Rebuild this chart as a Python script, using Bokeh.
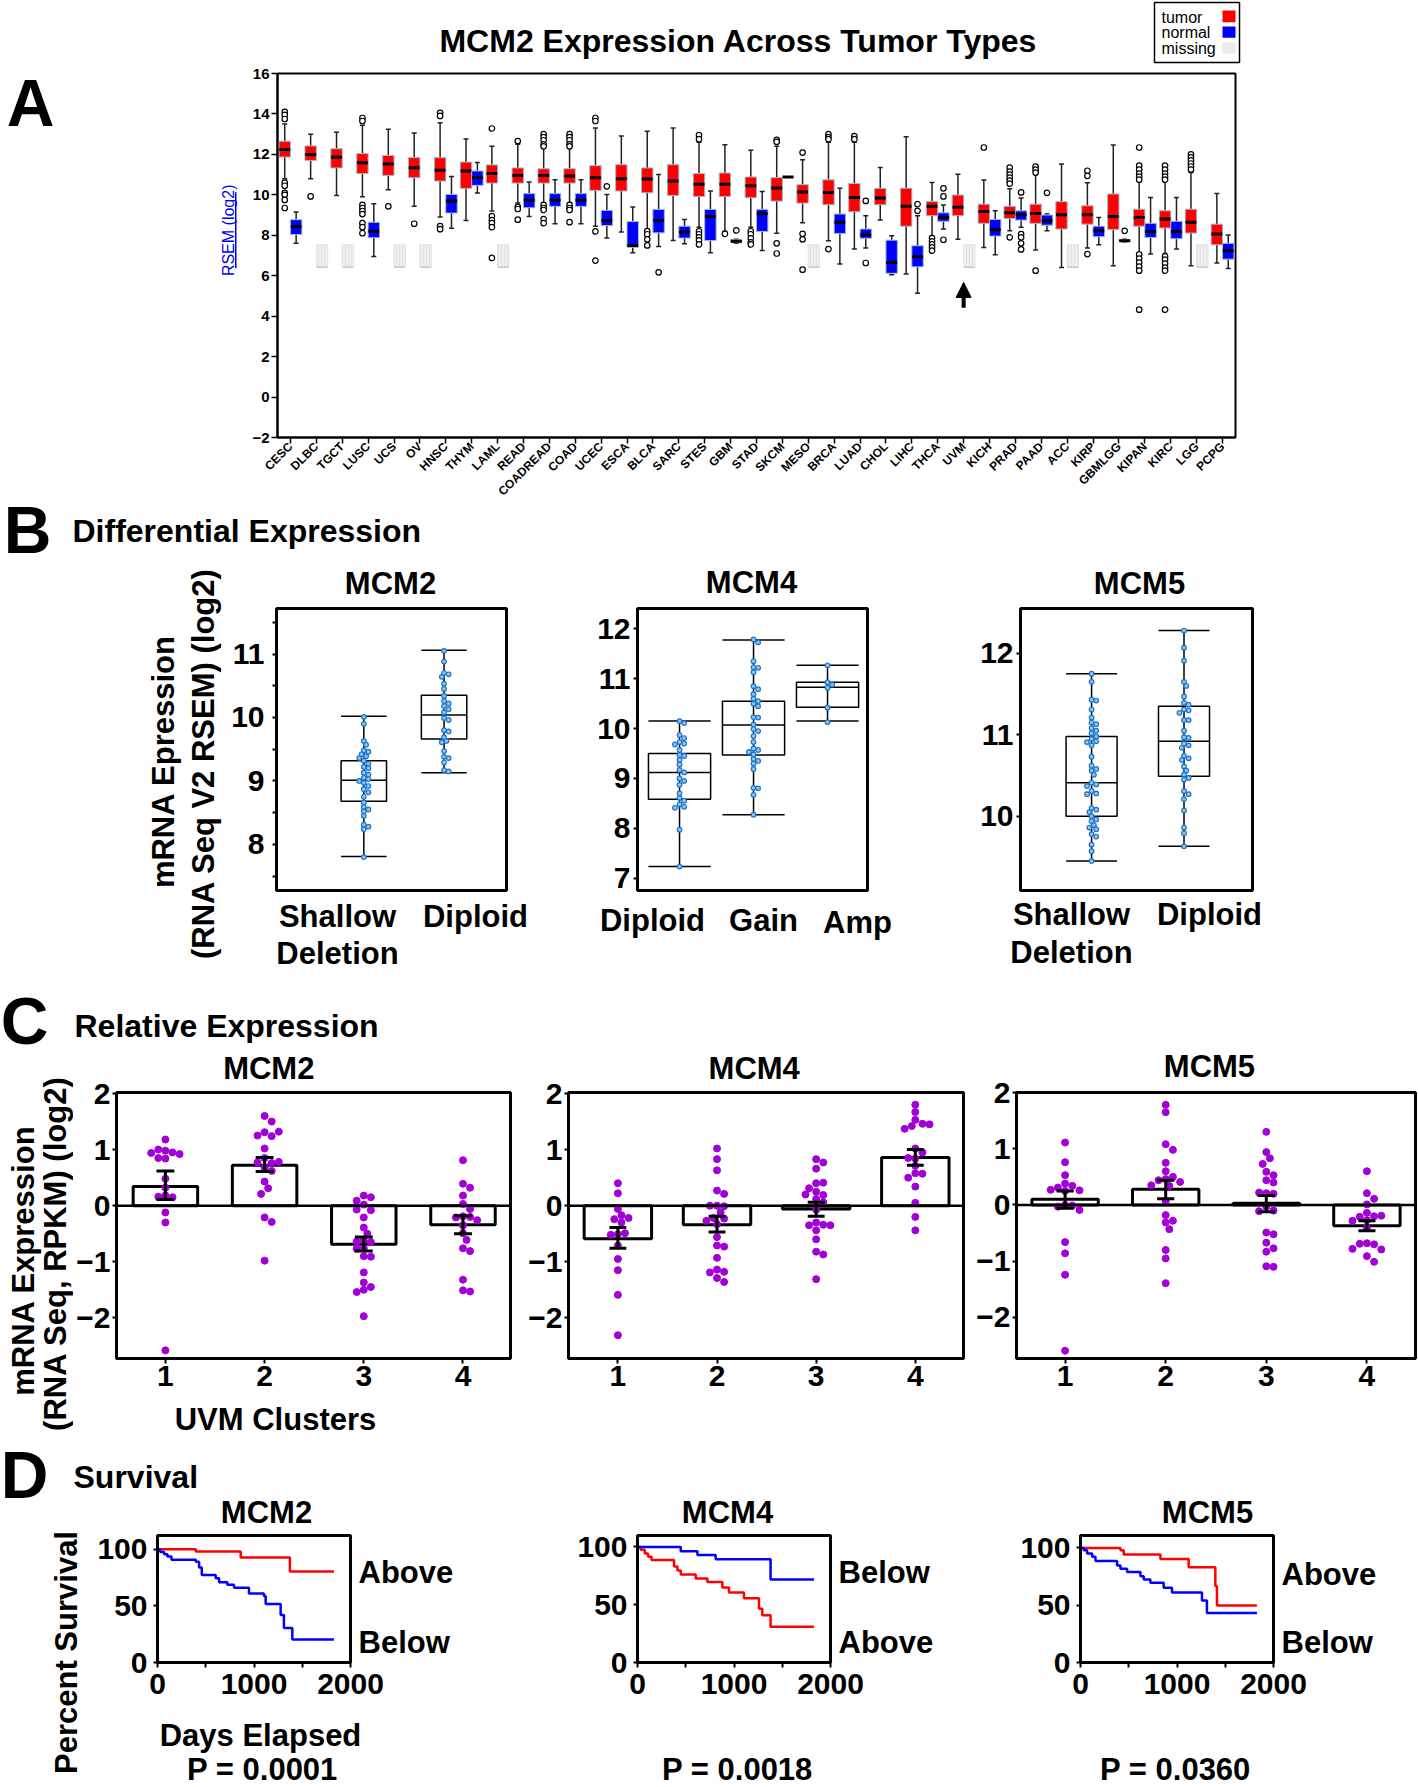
import math
from bokeh.plotting import figure
from bokeh.models import (Range1d, FactorRange, FixedTicker, Label, LinearAxis,
                          Arrow, NormalHead, ColumnDataSource, Span)
from bokeh.transform import dodge
from bokeh.layouts import column, row
from bokeh.embed import file_html
from bokeh.resources import INLINE

FONT = "Liberation Sans"
RED = "#ff0000"
BLUE = "#0000ff"
PURPLE = "#a100d6"

# ---------------- Panel A data ----------------
cats = ["CESC", "DLBC", "TGCT", "LUSC", "UCS", "OV", "HNSC", "THYM", "LAML", "READ",
        "COADREAD", "COAD", "UCEC", "ESCA", "BLCA", "SARC", "STES", "GBM", "STAD", "SKCM",
        "MESO", "BRCA", "LUAD", "CHOL", "LIHC", "THCA", "UVM", "KICH", "PRAD", "PAAD",
        "ACC", "KIRP", "GBMLGG", "KIPAN", "KIRC", "LGG", "PCPG"]
tumor_low = [10.8, 10.8, 9.97, 9.9, 10.25, 9.44, 8.9, 8.73, 9.2, 9.6, 9.6, 9.6, 8.45, 8.16, 8.32,
             7.74, 8.4, 8.2, 8.4, 8.1, 8.62, 7.73, 7.32, 8.75, 6.08, 7.98, 7.8, 7.4, 8.22, 7.27,
             6.41, 7.37, 6.49, 7.15, 7.1, 6.49, 6.63]
tumor_q1 = [11.87, 11.7, 11.33, 11.05, 10.96, 10.85, 10.68, 10.32, 10.58, 10.58, 10.58, 10.58,
            10.22, 10.19, 10.1, 9.97, 9.92, 9.92, 9.86, 9.69, 9.59, 9.51, 9.16, 9.51, 8.45, 8.97,
            8.97, 8.59, 8.83, 8.59, 8.31, 8.55, 8.29, 8.45, 8.36, 8.11, 7.53]
tumor_med = [12.24, 11.99, 11.86, 11.59, 11.52, 11.34, 11.21, 11.18, 11.05, 10.96, 10.95, 10.93,
             10.85, 10.8, 10.78, 10.68, 10.52, 10.52, 10.45, 10.34, 10.14, 10.12, 9.87, 9.84,
             9.43, 9.43, 9.38, 9.18, 9.11, 9.08, 9.01, 9.01, 8.93, 8.88, 8.8, 8.64, 8.06]
tumor_q3 = [12.65, 12.42, 12.28, 12.04, 11.95, 11.84, 11.84, 11.62, 11.48, 11.33, 11.29, 11.29,
            11.44, 11.49, 11.33, 11.49, 11.05, 11.08, 10.88, 10.85, 10.5, 10.74, 10.56, 10.32,
            10.33, 9.67, 9.99, 9.54, 9.43, 9.54, 9.66, 9.46, 10.04, 9.29, 9.21, 9.29, 8.55]
tumor_high = [13.5, 13.0, 13.1, 13.44, 13.24, 13.06, 13.56, 12.76, 12.4, 12.5, 12.3, 12.3, 13.3,
              12.91, 13.14, 13.3, 12.6, 12.48, 12.2, 12.4, 11.74, 12.6, 12.6, 11.35, 12.87, 10.61,
              11.02, 10.73, 10.3, 11.0, 11.52, 10.6, 12.46, 11.3, 10.9, 11.1, 10.07]
# normal tissue (None = missing)
normal_low = [7.6, None, None, 6.95, None, None, 8.35, 10.09, None, 8.93, 8.57, 8.57, 7.86, 7.13,
              7.45, 7.58, 7.13, 7.6, 7.25, 10.88, None, 6.58, 7.37, 6.05, 5.13, 8.31, None, 7.04,
              8.4, 8.22, None, 7.53, 7.68, 7.07, 7.32, None, 6.36]
normal_q1 = [8.04, None, None, 7.88, None, None, 9.1, 10.47, None, 9.36, 9.43, 9.43, 8.48, 7.41,
             8.12, 7.86, 7.74, 7.63, 8.19, 10.88, None, 8.09, 7.85, 6.12, 6.44, 8.69, None, 7.96,
             8.75, 8.5, None, 7.93, 7.7, 7.89, 7.83, None, 6.82]
normal_med = [8.44, None, None, 8.2, None, None, 9.69, 10.85, None, 9.73, 9.73, 9.73, 8.73, 7.5,
              8.73, 8.16, 8.93, 7.7, 9.06, 10.88, None, 8.64, 8.01, 6.66, 6.94, 8.88, None, 8.27,
              9.01, 8.72, None, 8.22, 7.73, 8.19, 8.17, None, 7.24]
normal_q3 = [8.77, None, None, 8.64, None, None, 10.02, 11.18, None, 10.06, 10.06, 10.06, 9.23,
             8.68, 9.28, 8.45, 9.28, 7.78, 9.28, 10.88, None, 9.05, 8.31, 7.76, 7.48, 9.11, None,
             8.78, 9.21, 9.0, None, 8.45, 7.78, 8.59, 8.69, None, 7.6]
normal_high = [9.15, None, None, 9.56, None, None, 10.91, 11.6, None, 10.63, 10.75, 10.75, 10.02,
               9.4, 11.0, 8.78, 10.19, 7.8, 10.17, 10.88, None, 10.32, 8.97, 7.98, 8.97, 9.5, None,
               9.21, 9.84, 9.05, None, 8.88, 7.8, 9.87, 9.87, None, 8.01]
tumor_outliers = {
    "CESC": [14.1, 13.95, 13.75, 10.6, 10.45, 10.1, 10.0, 9.75, 9.35],
    "DLBC": [9.92], "LUSC": [13.8, 13.65, 9.5, 9.35, 9.2, 9.05, 8.6, 8.4, 8.1],
    "UCS": [9.43], "OV": [8.57], "HNSC": [14.05, 13.9, 8.45, 8.3],
    "LAML": [13.28, 8.95, 8.75, 8.6, 8.4, 6.88], "READ": [12.66, 9.4, 9.3, 8.77],
    "COADREAD": [13.0, 12.85, 12.7, 12.5, 12.4, 9.5, 9.35, 9.25, 8.8, 8.6],
    "COAD": [13.0, 12.85, 12.7, 12.5, 12.4, 9.5, 9.35, 9.25, 8.65],
    "UCEC": [13.8, 13.65, 8.19, 6.75], "BLCA": [8.2, 8.05, 7.8, 7.5],
    "STES": [12.95, 12.75, 8.2, 8.05, 7.9, 7.75, 7.55], "GBM": [8.07],
    "STAD": [8.2, 8.05, 7.85, 7.65, 7.55], "SKCM": [12.72, 12.62, 7.6, 7.1],
    "MESO": [12.09, 8.07, 7.8, 6.3], "BRCA": [13.0, 12.85, 12.75, 7.32], "LUAD": [12.9, 12.75],
    "THCA": [7.86, 7.7, 7.55, 7.4, 7.24], "KICH": [12.34],
    "PRAD": [11.35, 11.15, 11.0, 10.85, 10.7, 10.55, 7.9], "PAAD": [11.39, 11.25, 11.1, 6.25],
    "KIRP": [11.19, 10.94, 7.07],
    "KIPAN": [12.34, 11.44, 11.25, 11.05, 10.9, 10.75, 7.05, 6.85, 6.65, 6.45, 6.25, 4.32],
    "KIRC": [11.44, 11.25, 11.05, 10.9, 10.75, 6.95, 6.8, 6.6, 6.4, 6.25, 4.32],
    "LGG": [12.0, 11.85, 11.7, 11.55, 11.4, 11.25],
}
normal_outliers = {
    "UCEC": [10.42], "BLCA": [6.17], "GBM": [8.24], "LUAD": [9.7, 6.63], "LIHC": [9.54, 9.21],
    "THCA": [10.32, 9.92, 7.78], "PRAD": [10.12, 8.06, 7.9, 7.6, 7.3], "PAAD": [10.1],
    "GBMLGG": [8.22],
}
A_yticks = [-2, 0, 2, 4, 6, 8, 10, 12, 14, 16]

# ---------------- Panel B data ----------------
B2_groups = ["Shallow Deletion", "Diploid"]
B2_stats = [(7.81, 8.68, 9.01, 9.32, 10.02), (9.13, 9.66, 10.04, 10.35, 11.06)]
B2_dots = [
    [10.01, 9.9, 9.63, 9.57, 9.48, 9.46, 9.42, 9.39, 9.36, 9.32, 9.27, 9.22, 9.2, 9.13, 9.1, 9.05,
     9.03, 9.0, 8.97, 8.92, 8.87, 8.82, 8.75, 8.66, 8.59, 8.55, 8.52, 8.45, 8.31, 8.28, 8.24, 7.8],
    [11.05, 10.88, 10.7, 10.68, 10.64, 10.53, 10.45, 10.34, 10.26, 10.22, 10.18, 10.13, 10.08,
     9.99, 9.96, 9.8, 9.78, 9.69, 9.63, 9.61, 9.47, 9.38, 9.36, 9.29, 9.17, 9.15]]
B4_groups = ["Diploid", "Gain", "Amp"]
B4_stats = [(7.23, 8.58, 9.12, 9.5, 10.15), (8.27, 9.47, 10.07, 10.55, 11.78),
            (10.15, 10.43, 10.83, 10.93, 11.27)]
B4_dots = [
    [10.15, 10.11, 9.87, 9.81, 9.73, 9.7, 9.68, 9.57, 9.47, 9.45, 9.37, 9.28, 9.17, 9.12, 9.0,
     8.95, 8.87, 8.7, 8.61, 8.55, 8.48, 8.43, 8.41, 7.97, 7.23],
    [11.79, 11.73, 11.35, 11.23, 11.22, 11.13, 10.85, 10.79, 10.69, 10.6, 10.55, 10.5, 10.45,
     10.23, 10.22, 10.08, 9.99, 9.95, 9.85, 9.73, 9.6, 9.57, 9.53, 9.48, 9.39, 9.35, 9.3, 9.19,
     8.81, 8.8, 8.67, 8.27],
    [11.27, 10.93, 10.88, 10.82, 10.42, 10.13]]
B5_groups = ["Shallow Deletion", "Diploid"]
B5_stats = [(9.45, 10.0, 10.41, 10.98, 11.75), (9.63, 10.49, 10.92, 11.35, 12.28)]
B5_dots = [
    [11.75, 11.65, 11.43, 11.42, 11.31, 11.21, 11.15, 11.13, 11.08, 11.05, 11.02, 10.98, 10.95,
     10.92, 10.91, 10.87, 10.73, 10.62, 10.58, 10.56, 10.51, 10.41, 10.39, 10.37, 10.31, 10.28,
     10.27, 10.1, 10.08, 10.05, 10.0, 9.96, 9.94, 9.89, 9.86, 9.84, 9.78, 9.75, 9.65, 9.57, 9.45],
    [12.28, 12.07, 11.91, 11.65, 11.6, 11.47, 11.39, 11.37, 11.31, 11.3, 11.27, 11.18, 11.18,
     11.05, 10.97, 10.96, 10.89, 10.87, 10.84, 10.74, 10.71, 10.69, 10.61, 10.56, 10.51, 10.47,
     10.45, 10.31, 10.27, 10.21, 10.07, 9.86, 9.79, 9.63]]

# ---------------- Panel C data ----------------
clusters = [1, 2, 3, 4]
C2_mean = [0.34, 0.72, -0.69, -0.34]
C2_lo = [0.11, 0.61, -0.81, -0.5]
C2_hi = [0.62, 0.86, -0.56, -0.18]
C2_dots = [
    [1.18, 0.98, 0.95, 1.0, 0.92, 0.94, 0.84, 0.85, 0.48, 0.32, 0.18, 0.15, 0.16, -0.12, -0.3, -2.58],
    [1.6, 1.5, 1.31, 1.24, 1.25, 1.32, 1.02, 0.85, 0.76, 0.77, 0.78, 0.68, 0.62, 0.43, 0.31, 0.21,
     -0.21, -0.29, -0.98],
    [0.18, 0.15, 0.09, 0.02, -0.08, -0.07, -0.21, -0.39, -0.5, -0.62, -0.65, -0.64, -0.76, -0.77,
     -0.9, -0.91, -1.19, -1.37, -1.45, -1.5, -1.54, -1.97],
    [0.81, 0.39, 0.32, 0.18, 0.03, -0.06, -0.19, -0.2, -0.21, -0.26, -0.35, -0.49, -0.61, -0.76,
     -0.81, -1.32, -1.51, -1.53]]
C4_mean = [-0.59, -0.34, -0.06, 0.86]
C4_lo = [-0.76, -0.47, -0.19, 0.72]
C4_hi = [-0.39, -0.19, 0.06, 1.0]
C4_dots = [
    [0.4, 0.22, -0.06, -0.17, -0.24, -0.3, -0.22, -0.51, -0.49, -0.52, -0.71, -0.95, -1.15, -1.59, -2.31],
    [1.02, 0.83, 0.63, 0.27, 0.21, 0.0, -0.01, 0.0, -0.12, -0.22, -0.23, -0.27, -0.33, -0.56,
     -0.71, -0.73, -0.93, -1.14, -1.18, -1.19, -1.29, -1.36],
    [0.83, 0.77, 0.66, 0.4, 0.41, 0.31, 0.25, 0.19, 0.2, 0.12, 0.06, -0.07, -0.3, -0.34, -0.35,
     -0.35, -0.44, -0.6, -0.82, -0.87, -1.31],
    [1.8, 1.67, 1.53, 1.46, 1.42, 1.37, 1.45, 1.02, 0.95, 0.84, 0.85, 0.71, 0.58, 0.57, 0.5, 0.34,
     0.05, -0.2, -0.44]]
C5_mean = [0.1, 0.28, 0.03, -0.37]
C5_lo = [-0.06, 0.11, -0.12, -0.46]
C5_hi = [0.25, 0.44, 0.17, -0.28]
C5_dots = [
    [1.11, 0.76, 0.53, 0.38, 0.34, 0.31, 0.26, 0.25, 0.27, 0.0, -0.01, -0.03, -0.09, -0.66, -0.86,
     -1.24, -2.59],
    [1.78, 1.65, 1.08, 0.98, 0.75, 0.6, 0.5, 0.46, 0.44, 0.41, 0.34, 0.35, 0.07, -0.18, -0.28,
     -0.31, -0.43, -0.8, -0.95, -1.39],
    [1.3, 0.94, 0.83, 0.73, 0.59, 0.53, 0.44, 0.4, 0.21, 0.2, 0.22, -0.03, -0.1, -0.11, -0.49,
     -0.52, -0.67, -0.77, -0.83, -1.09, -1.1],
    [0.6, 0.21, 0.11, 0.01, -0.14, -0.2, -0.21, -0.19, -0.27, -0.28, -0.4, -0.68, -0.7, -0.69,
     -0.79, -0.78, -0.91, -1.01]]

# ---------------- Panel D data (Kaplan-Meier steps) ----------------
D2_above_t = [0, 397, 862, 1372, 1828]
D2_above_s = [100, 98, 92.8, 80.3, 80.3]
D2_below_t = [0, 28, 69, 103, 145, 397, 431, 459, 603, 638, 724, 793, 948, 1103, 1121, 1276, 1310, 1397, 1828]
D2_below_s = [100, 97.7, 95.7, 93.6, 90.7, 89, 84, 77.4, 74.5, 71, 68.7, 66, 60.9, 58.8, 51.6, 42, 30.4, 20.3, 20.3]
D4_above_t = [0, 34, 76, 110, 145, 379, 414, 448, 603, 724, 879, 948, 1103, 1259, 1293, 1379, 1828]
D4_above_s = [100, 97.5, 94.4, 91.5, 88.7, 83.1, 79.7, 76.1, 72.7, 69.6, 64.8, 60.6, 55.5, 46.5, 40.8, 31.0, 31.0]
D4_below_t = [0, 448, 621, 810, 1379, 1828]
D4_below_s = [100, 96.3, 93, 89.3, 71.8, 71.8]
D5_above_t = [0, 414, 448, 828, 1121, 1397, 1414, 1828]
D5_above_s = [100, 98, 94.3, 90.3, 83, 66.8, 49.7, 49.7]
D5_below_t = [0, 34, 69, 121, 155, 379, 414, 483, 621, 655, 724, 862, 948, 1259, 1310, 1828]
D5_below_s = [100, 98, 95.2, 92.3, 88.6, 84.7, 81.8, 79, 75.3, 72.4, 69.6, 65.3, 61.1, 54, 43.2, 43.2]
# curve-end group labels: (label, position in %)
D2_groups = [("Above", 79.1), ("Below", 17.4)]
D4_groups = [("Below", 78.0), ("Above", 16.9)]
D5_groups = [("Above", 77.0), ("Below", 17.3)]


# ---------------- helpers ----------------
def mk(fig_box, frame, xr, yr, outline=3):
    x0, y0, x1, y1 = fig_box
    fx0, fy0, fx1, fy1 = frame
    p = figure(width=x1 - x0, height=y1 - y0, x_range=xr, y_range=yr, output_backend="svg",
               toolbar_location=None, min_border_left=fx0 - x0, min_border_right=x1 - fx1,
               min_border_top=fy0 - y0, min_border_bottom=y1 - fy1)
    p.xgrid.visible = False
    p.ygrid.visible = False
    p.outline_line_color = "black"
    p.outline_line_width = outline
    p.outline_line_alpha = 1
    for ax in p.axis:
        ax.axis_line_color = "black"
        ax.axis_line_width = outline
        ax.major_tick_line_width = 2
        ax.minor_tick_line_width = 2
        ax.major_tick_in = 0
        ax.minor_tick_in = 0
        ax.major_label_text_font = FONT
        ax.major_label_text_font_style = "bold"
        ax.major_label_text_color = "black"
    return p


def tf(x0, y0, x1, y1):
    """text-only figure whose data coordinates are page pixels"""
    p = figure(width=x1 - x0, height=y1 - y0, x_range=Range1d(x0, x1), y_range=Range1d(y1, y0),
               output_backend="svg", toolbar_location=None, x_axis_location=None,
               y_axis_location=None, min_border=0)
    p.outline_line_color = None
    p.grid.visible = False
    p.xgrid.visible = False
    p.ygrid.visible = False
    return p


def lab(p, x, y, s, size=31, align="center", angle=0.0, bold=True, color="black"):
    p.add_layout(Label(x=x, y=y, text=s, text_font=FONT, text_font_size=f"{size}px",
                       text_font_style="bold" if bold else "normal", text_align=align,
                       text_baseline="middle", angle=angle, text_color=color))


def swarm(vals, center, ppu_y, ppu_x, d):
    placed, xs = [], []
    steps = [0.0]
    for k in range(1, 40):
        steps += [k * d / 2.0, -k * d / 2.0]
    for v in vals:
        y = v * ppu_y
        for s in steps:
            if all((s - px) ** 2 + (y - py) ** 2 >= 0.9 * d * d for px, py in placed):
                break
        placed.append((s, y))
        xs.append(center + s / ppu_x)
    return xs


def set_ticks(ax, ticks, minor=(), size=30, out=4, standoff=4):
    ax.ticker = FixedTicker(ticks=list(ticks), minor_ticks=list(minor))
    ax.major_label_text_font_size = f"{size}px"
    ax.major_tick_out = out
    ax.minor_tick_out = out
    ax.major_label_standoff = standoff


def side_labels(p, side, items, size, standoff):
    """plain text labels set on an extra axis without ticks or line"""
    ax = LinearAxis(ticker=FixedTicker(ticks=[v for _, v in items], minor_ticks=[]),
                    major_label_overrides={v: t for t, v in items},
                    axis_line_color=None, major_tick_line_color=None,
                    minor_tick_line_color=None, major_tick_out=0, major_tick_in=0,
                    major_label_standoff=int(standoff), major_label_text_font=FONT,
                    major_label_text_font_style="bold", major_label_text_font_size=f"{size}px",
                    major_label_text_color="black")
    p.add_layout(ax, side)


# ================= Rows A and B =================
stripA = tf(0, 0, 1418, 65)
lab(stripA, 738, 40, "MCM2 Expression Across Tumor Types", size=32)
stripA.quad(left=[1154], right=[1239], top=[2], bottom=[62], fill_color="white",
            line_color="black", line_width=1.5)
lab(stripA, 1161, 16.7, "tumor", size=16, align="left", bold=False)
lab(stripA, 1161, 32.3, "normal", size=16, align="left", bold=False)
lab(stripA, 1161, 48.3, "missing", size=16, align="left", bold=False)
stripA.quad(left=[1222] * 3, right=[1235] * 3, top=[10, 26, 41.7], bottom=[21.7, 37.3, 53.3],
            fill_color=[RED, BLUE, "#ececec"], line_color=None)

lettersAB = tf(0, 65, 62, 975)
lab(lettersAB, 30, 102, "A", size=66)
lab(lettersAB, 27, 529, "B", size=66)

leftA = tf(62, 65, 244, 506)
lab(leftA, 228, 255, "RSEM (log2)", size=16, angle=math.pi / 2, bold=False, color="#0000ee")
leftA.quad(left=[234.5], right=[236], top=[209], bottom=[301], fill_color="#0000ee", line_color=None)

pA = mk((244, 65, 1418, 506), (277, 73, 1235, 437), FactorRange(*cats), Range1d(-2, 16), outline=2)
set_ticks(pA.yaxis[0], A_yticks, size=15, out=6, standoff=2)
pA.yaxis.axis_line_width = 2
pA.yaxis.major_tick_line_width = 1.5
pA.xaxis.major_label_orientation = math.pi / 4
pA.xaxis.major_label_text_font_size = "12px"
pA.xaxis.major_tick_out = 6
pA.xaxis.major_tick_line_width = 1.5
pA.xaxis.axis_line_width = 2
pA.xaxis.major_label_standoff = 1

tsrc = ColumnDataSource(dict(cat=cats, low=tumor_low, q1=tumor_q1, med=tumor_med,
                             q3=tumor_q3, high=tumor_high))
has_n = [i for i, v in enumerate(normal_med) if v is not None]
nsrc = ColumnDataSource(dict(cat=[cats[i] for i in has_n], low=[normal_low[i] for i in has_n],
                             q1=[normal_q1[i] for i in has_n], med=[normal_med[i] for i in has_n],
                             q3=[normal_q3[i] for i in has_n], high=[normal_high[i] for i in has_n]))
miss = [cats[i] for i, v in enumerate(normal_med) if v is None]
MISS_LO, MISS_HI = 6.42, 7.53
pA.vbar(x=dodge("cat", 0.22, range=pA.x_range), width=0.44, bottom=MISS_LO, top=MISS_HI,
        source=ColumnDataSource(dict(cat=miss)), fill_color="#efefef", line_color="#e4e4e4",
        hatch_pattern="|", hatch_color="#e2e2e2", hatch_scale=3)
pA.segment(x0=dodge("cat", 0.02, range=pA.x_range), x1=dodge("cat", 0.42, range=pA.x_range),
           y0=MISS_LO, y1=MISS_LO, source=ColumnDataSource(dict(cat=miss)),
           line_color="#c8c8c8", line_width=1.5)

for src, off, col in ((tsrc, -0.22, RED), (nsrc, 0.22, BLUE)):
    xc = dodge("cat", off, range=pA.x_range)
    pA.segment(x0=xc, x1=xc, y0="low", y1="q1", source=src, line_color="#222222", line_width=1.5)
    pA.segment(x0=xc, x1=xc, y0="q3", y1="high", source=src, line_color="#222222", line_width=1.5)
    for yk in ("low", "high"):
        pA.scatter(x=xc, y=yk, source=src, marker="dash", size=5, line_color="#222222",
                   line_width=1.5)
    pA.vbar(x=xc, width=0.44, bottom="q1", top="q3", source=src, fill_color=col,
            line_color="#9fb8c8", line_width=1)
    pA.segment(x0=dodge("cat", off - 0.21, range=pA.x_range),
               x1=dodge("cat", off + 0.21, range=pA.x_range),
               y0="med", y1="med", source=src, line_color="black", line_width=3)

for outl, off in ((tumor_outliers, -0.22), (normal_outliers, 0.22)):
    oc, ov = [], []
    for c, vals in outl.items():
        oc += [c] * len(vals)
        ov += vals
    pA.scatter(x=dodge("cat", off, range=pA.x_range), y="v",
               source=ColumnDataSource(dict(cat=oc, v=ov)), marker="circle", size=5.5,
               line_color="black", fill_color="white", line_width=1.2)

uvm_x = cats.index("UVM") + 0.5
pA.add_layout(Arrow(end=NormalHead(size=15, fill_color="black", line_color="black"),
                    x_start=uvm_x, y_start=4.42, x_end=uvm_x, y_end=5.67,
                    line_width=4, line_color="black"))


def box_panel(p, xs, stats, hw, dots, ppu_y, ppu_x):
    src = ColumnDataSource(dict(
        x=xs, low=[s[0] for s in stats], q1=[s[1] for s in stats], med=[s[2] for s in stats],
        q3=[s[3] for s in stats], high=[s[4] for s in stats],
        xl=[x - hw for x in xs], xr=[x + hw for x in xs]))
    p.vbar(x="x", width=2 * hw, bottom="q1", top="q3", source=src, fill_color="white",
           line_color="black", line_width=1.5)
    p.segment(x0="x", x1="x", y0="low", y1="high", source=src, line_color="black", line_width=1.5)
    for yk in ("low", "high", "med"):
        p.segment(x0="xl", x1="xr", y0=yk, y1=yk, source=src, line_color="black", line_width=1.5)
    for x, vals in zip(xs, dots):
        p.scatter(x=swarm(vals, x, ppu_y, ppu_x, 4.6), y=vals, marker="circle", size=4.6,
                  line_color="#1f74c8", fill_color="#8cc6f2", line_width=1.2)
    p.xaxis.visible = False


headerB = tf(62, 506, 1418, 560)
lab(headerB, 72, 530, "Differential Expression", size=32, align="left")

ylabB = tf(62, 560, 228, 975)
lab(ylabB, 163, 761, "mRNA Epression", size=31, angle=math.pi / 2)
lab(ylabB, 203, 763, "(RNA Seq V2 RSEM) (log2)", size=31, angle=math.pi / 2)

titleB = tf(228, 560, 1418, 602)
lab(titleB, 390, 583, "MCM2", size=31)
lab(titleB, 751, 582, "MCM4", size=31)
lab(titleB, 1139, 583, "MCM5", size=31)

B1 = mk((228, 602, 560, 896), (275, 607, 506, 890), Range1d(-0.088, 2.778), Range1d(7.274, 11.717))
set_ticks(B1.yaxis[0], [8, 9, 10, 11], [7.5, 8.5, 9.5, 10.5, 11.5], size=30, out=4, standoff=8)
box_panel(B1, [1, 2], B2_stats, 0.283, B2_dots, 63.7, 80.6)

B2 = mk((560, 602, 960, 896), (637, 607, 867, 890), Range1d(0.432, 3.54), Range1d(6.75, 12.41))
set_ticks(B2.yaxis[0], [7, 8, 9, 10, 11, 12], size=30, out=4, standoff=3)
box_panel(B2, [1, 2, 3], B4_stats, 0.42, B4_dots, 50, 74)

B3 = mk((960, 602, 1418, 896), (1020, 608, 1252, 891), Range1d(0.231, 2.741), Range1d(9.087, 12.551))
set_ticks(B3.yaxis[0], [10, 11, 12], size=30, out=4, standoff=3)
box_panel(B3, [1, 2], B5_stats, 0.276, B5_dots, 81.7, 92.3)

footB = tf(228, 896, 1418, 975)
lab(footB, 337, 916, "Shallow", size=31)
lab(footB, 337, 953, "Deletion", size=31)
lab(footB, 475, 916, B2_groups[1], size=31)
lab(footB, 652, 920, B4_groups[0], size=31)
lab(footB, 763, 920, B4_groups[1], size=31)
lab(footB, 857, 922, B4_groups[2], size=31)
lab(footB, 1071, 914, "Shallow", size=31)
lab(footB, 1071, 952, "Deletion", size=31)
lab(footB, 1209, 914, B5_groups[1], size=31)

rowAB = column(stripA, row(lettersAB, column(
    row(leftA, pA),
    headerB,
    row(ylabB, column(titleB, row(B1, B2, B3), footB)))))


# ================= Row C =================
def bar_panel(p, means, lo, hi, dots, bw, cap, ppu_y, ppu_x):
    p.vbar(x=clusters, top=means, bottom=0, width=bw, fill_color="white", line_color="black",
           line_width=3)
    p.add_layout(Span(location=0, dimension="width", line_color="black", line_width=2.5))
    for x, vals in zip(clusters, dots):
        p.scatter(x=swarm(vals, x, ppu_y, ppu_x, 7.2), y=vals, marker="circle", size=7,
                  fill_color=PURPLE, line_color=PURPLE)
    src = ColumnDataSource(dict(x=clusters, lo=lo, hi=hi, xl=[c - cap for c in clusters],
                                xr=[c + cap for c in clusters]))
    p.segment(x0="x", x1="x", y0="lo", y1="hi", source=src, line_color="black", line_width=3)
    p.segment(x0="xl", x1="xr", y0="lo", y1="lo", source=src, line_color="black", line_width=3)
    p.segment(x0="xl", x1="xr", y0="hi", y1="hi", source=src, line_color="black", line_width=3)
    set_ticks(p.yaxis[0], [-2, -1, 0, 1, 2], size=30, out=4, standoff=2)
    set_ticks(p.xaxis[0], clusters, size=30, out=5, standoff=2)


leftC = tf(0, 975, 73, 1437)
lab(leftC, 24, 1020, "C", size=66)
lab(leftC, 23, 1260, "mRNA Expression", size=31, angle=math.pi / 2)
lab(leftC, 55, 1253, "(RNA Seq, RPKM) (log2)", size=31, angle=math.pi / 2)

headerC = tf(73, 975, 1418, 1043)
lab(headerC, 74, 1025, "Relative Expression", size=32, align="left")

C1 = mk((73, 1043, 525, 1401), (110, 1092, 510, 1360), Range1d(0.507, 4.479), Range1d(-2.725, 2.018))
bar_panel(C1, C2_mean, C2_lo, C2_hi, C2_dots, 0.65, 0.09, 56.5, 100.7)
side_labels(C1, "above", [("MCM2", 2.042)], 31, 7)
C2 = mk((525, 1043, 970, 1401), (563, 1090, 963, 1358), Range1d(0.502, 4.486), Range1d(-2.725, 2.018))
bar_panel(C2, C4_mean, C4_lo, C4_hi, C4_dots, 0.68, 0.085, 56.5, 100.4)
side_labels(C2, "above", [("MCM4", 2.375)], 31, 7)
C3 = mk((970, 1043, 1418, 1401), (1016, 1092, 1415, 1358), Range1d(0.517, 4.483), Range1d(-2.729, 2.0))
bar_panel(C3, C5_mean, C5_lo, C5_hi, C5_dots, 0.66, 0.085, 56.25, 100.6)
side_labels(C3, "above", [("MCM5", 2.435)], 31, 9)

footC = tf(73, 1401, 1418, 1437)
lab(footC, 275, 1419, "UVM Clusters", size=31)

rowC = row(leftC, column(headerC, row(C1, C2, C3), footC))


# ================= Row D =================
def surv_panel(p, red_t, red_s, blue_t, blue_s, groups):
    p.step(red_t, red_s, mode="after", line_color=RED, line_width=2.5)
    p.step(blue_t, blue_s, mode="after", line_color=BLUE, line_width=2.5)
    set_ticks(p.yaxis[0], [0, 50, 100], size=30, out=4, standoff=6)
    set_ticks(p.xaxis[0], [0, 1000, 2000], [500, 1500], size=30, out=5, standoff=6)
    side_labels(p, "right", groups, 31, 8)


letterD = tf(0, 1437, 48, 1787)
lab(letterD, 24, 1474, "D", size=66)

headerD = tf(48, 1437, 1418, 1494)
lab(headerD, 73, 1476, "Survival", size=32, align="left")

ylabD = tf(48, 1494, 90, 1787)
lab(ylabD, 66, 1652, "Percent Survival", size=31, angle=math.pi / 2)

titleD = tf(90, 1494, 1418, 1529)
lab(titleD, 266, 1511.5, "MCM2", size=31)
lab(titleD, 727, 1511.5, "MCM4", size=31)
lab(titleD, 1207, 1511.5, "MCM5", size=31)

D1 = mk((90, 1529, 540, 1712), (157, 1533, 350, 1662), Range1d(0, 2000), Range1d(0, 112.2))
surv_panel(D1, D2_above_t, D2_above_s, D2_below_t, D2_below_s, D2_groups)
D2 = mk((540, 1529, 960, 1712), (637, 1535, 830, 1665), Range1d(0, 2000), Range1d(0, 109.9))
surv_panel(D2, D4_above_t, D4_above_s, D4_below_t, D4_below_s, D4_groups)
D3 = mk((960, 1529, 1418, 1712), (1080, 1533, 1273, 1663), Range1d(0, 2000), Range1d(0, 110.8))
surv_panel(D3, D5_above_t, D5_above_s, D5_below_t, D5_below_s, D5_groups)

footD = tf(90, 1712, 1418, 1787)
lab(footD, 260, 1735, "Days Elapsed", size=31)
lab(footD, 262, 1769, "P = 0.0001", size=31)
lab(footD, 737, 1769, "P = 0.0018", size=31)
lab(footD, 1175, 1769, "P = 0.0360", size=31)

rowD = row(letterD, column(headerD, row(ylabD, column(titleD, row(D1, D2, D3), footD))))

layout = column(rowAB, rowC, rowD)
open("out.html", "w").write(file_html(layout, INLINE))
